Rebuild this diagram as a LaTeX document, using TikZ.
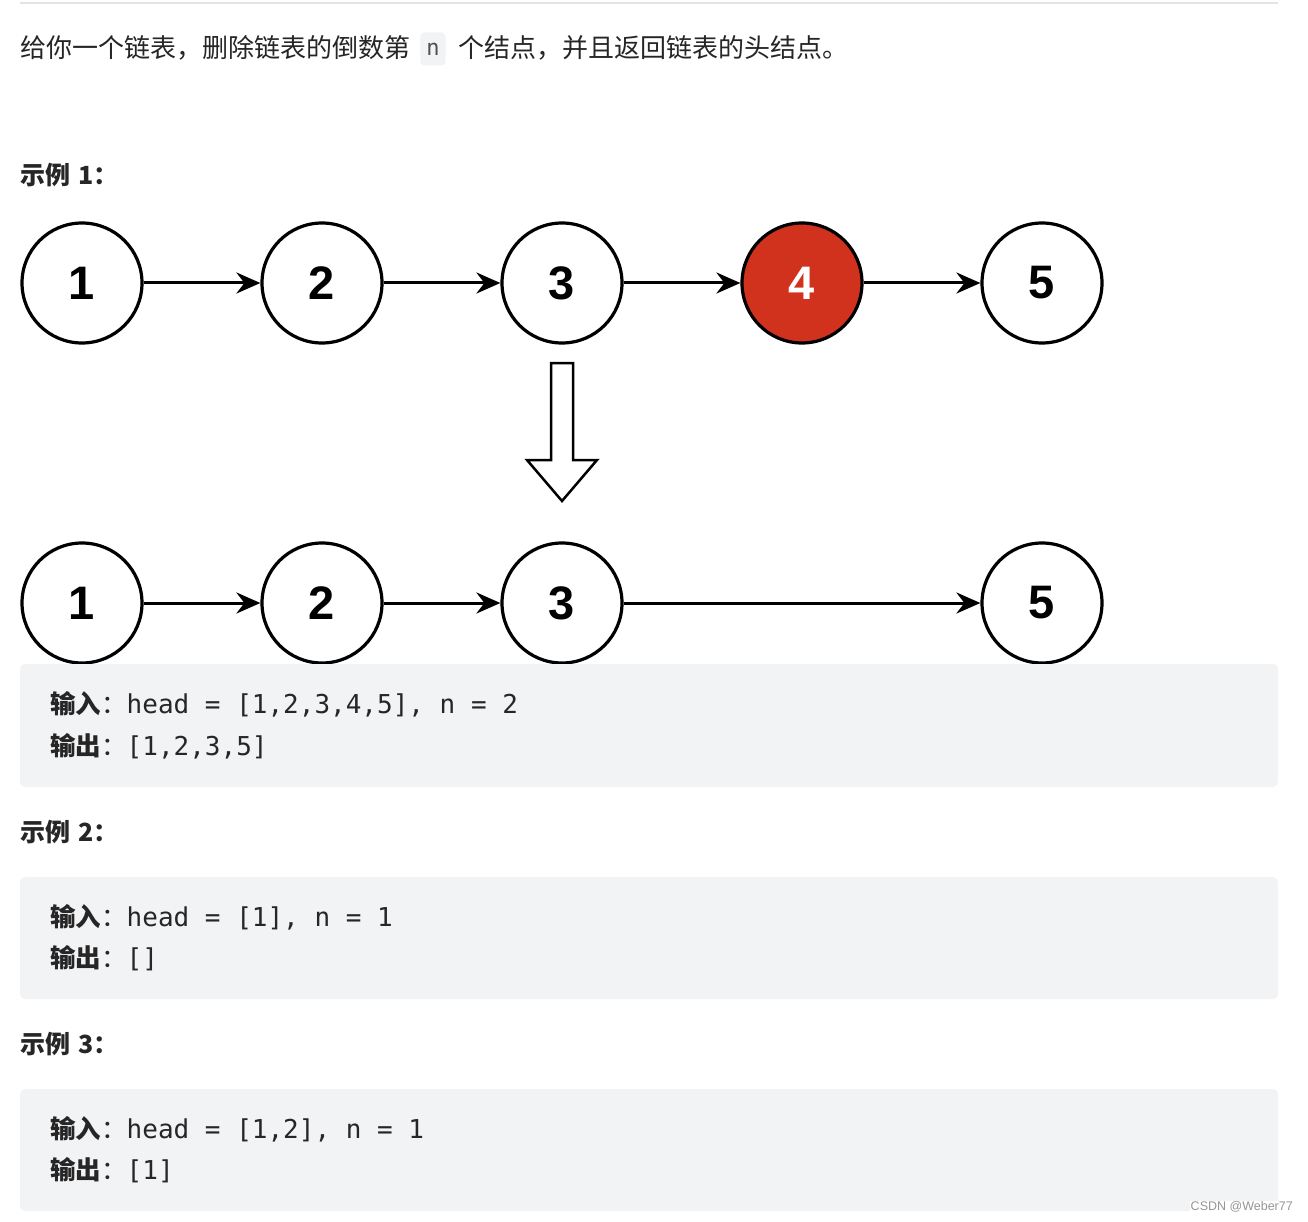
\documentclass[tikz,border=0pt]{standalone}
\usepackage{fontspec}
\setmainfont{Liberation Sans}
\newfontfamily\cjk{Noto Sans CJK SC}
\newfontfamily\digf{Liberation Sans}
\newfontfamily\monof{DejaVu Sans Mono}
\usetikzlibrary{arrows.meta}
\definecolor{txt}{RGB}{38,38,38}
\definecolor{codebg}{RGB}{242,243,245}
\definecolor{nodered}{RGB}{208,50,30}
\definecolor{rulegray}{RGB}{228,228,228}
\definecolor{wm}{RGB}{150,150,150}
\tikzset{
  circ/.style={circle, draw=black, line width=3.2pt, minimum size=120pt, inner sep=0pt,
    font=\digf\bfseries\fontsize{47}{47}\selectfont},
  redcirc/.style={circ, fill=nodered, text=white},
  link/.style={line width=3pt, -{Stealth[length=24pt,width=21pt,inset=8pt]}},
  hollow/.style={draw=black, line width=2.5pt, fill=white, line join=miter},
  plain/.style={anchor=west, inner sep=0pt, text=txt, font=\cjk\fontsize{26}{30}\selectfont},
  head/.style={anchor=west, inner sep=0pt, text=txt, font=\cjk\bfseries\fontsize{25}{30}\selectfont},
  codebox/.style={fill=codebg, rounded corners=5pt},
  codeline/.style={anchor=west, inner sep=0pt, text=txt, font=\monof\fontsize{26}{30}\selectfont},
  inlinecode/.style={fill=codebg, rounded corners=4pt, inner xsep=6pt, minimum height=33pt,
    text=txt!80, font=\monof\fontsize{22}{26}\selectfont},
}
\newcommand{\lbl}[1]{{\cjk\fontsize{25.5}{30}\selectfont{\bfseries #1}：}}
\begin{document}
\begin{tikzpicture}[x=1pt,y=-1pt]
\useasboundingbox (0,0) rectangle (1308,1222);
\fill[white] (0,0) rectangle (1308,1222);
% top rule
\draw[rulegray, line width=2pt] (20,3) -- (1278,3);
% title
\node[plain] (t1) at (20,48) {给你一个链表，删除链表的倒数第};
\node[inlinecode] (tn) at (433,49) {n};
\node[plain] (t2) at (458,48) {个结点，并且返回链表的头结点。};
% example 1
\node[head] (h1) at (20,175) {示例\hspace{8pt}1：};
% first list
\node[circ] (a1) at (82,283) {1};
\node[circ] (a2) at (322,283) {2};
\node[circ] (a3) at (562,283) {3};
\node[redcirc] (a4) at (802,283) {4};
\node[circ] (a5) at (1042,283) {5};
\draw[link] (a1) -- (a2);
\draw[link] (a2) -- (a3);
\draw[link] (a3) -- (a4);
\draw[link] (a4) -- (a5);
% hollow arrow
\draw[hollow] (551,363) -- (573,363) -- (573,460) -- (597,460) -- (562,501) -- (527,460) -- (551,460) -- cycle;
% second list
\node[circ] (b1) at (82,603) {1};
\node[circ] (b2) at (322,603) {2};
\node[circ] (b3) at (562,603) {3};
\node[circ] (b5) at (1042,603) {5};
\draw[link] (b1) -- (b2);
\draw[link] (b2) -- (b3);
\draw[link] (b3) -- (b5);
% code block 1
\fill[codebox] (20,664) rectangle (1278,787);
\node[codeline] (c1a) at (50,704) {\lbl{输入}head = [1,2,3,4,5], n = 2};
\node[codeline] (c1b) at (50,746) {\lbl{输出}[1,2,3,5]};
% example 2
\node[head] (h2) at (20,832) {示例\hspace{8pt}2：};
\fill[codebox] (20,877) rectangle (1278,999);
\node[codeline] (c2a) at (50,917) {\lbl{输入}head = [1], n = 1};
\node[codeline] (c2b) at (50,958) {\lbl{输出}[]};
% example 3
\node[head] (h3) at (20,1044) {示例\hspace{8pt}3：};
\fill[codebox] (20,1089) rectangle (1278,1211);
\node[codeline] (c3a) at (50,1129) {\lbl{输入}head = [1,2], n = 1};
\node[codeline] (c3b) at (50,1170) {\lbl{输出}[1]};
% watermark
\node[anchor=east, fill=white, inner sep=1pt, text=wm, font=\digf\fontsize{12.5}{14}\selectfont] (wmk) at (1294,1207) {CSDN @Weber77};
\end{tikzpicture}
\end{document}
